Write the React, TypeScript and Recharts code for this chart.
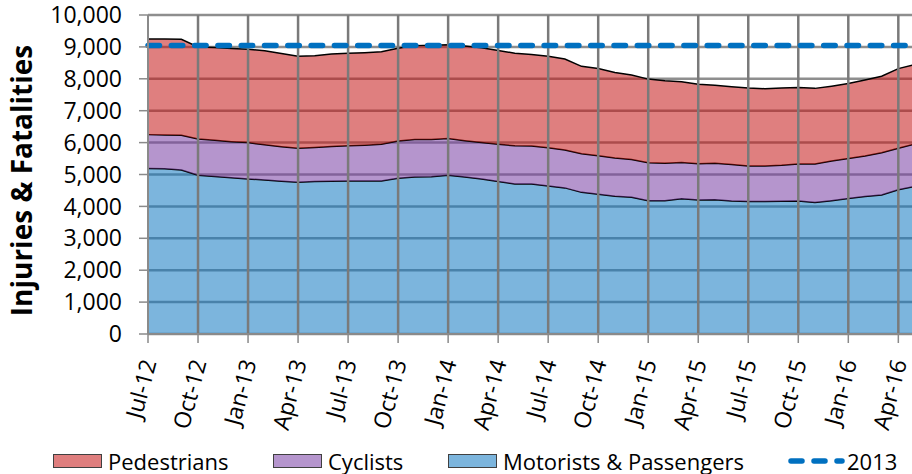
import React from 'react';
import { ComposedChart, Area, Line, XAxis, YAxis, CartesianGrid, ReferenceLine } from 'recharts';

const months = [
  'Jul-12', 'Aug-12', 'Sep-12', 'Oct-12', 'Nov-12', 'Dec-12',
  'Jan-13', 'Feb-13', 'Mar-13', 'Apr-13', 'May-13', 'Jun-13',
  'Jul-13', 'Aug-13', 'Sep-13', 'Oct-13', 'Nov-13', 'Dec-13',
  'Jan-14', 'Feb-14', 'Mar-14', 'Apr-14', 'May-14', 'Jun-14',
  'Jul-14', 'Aug-14', 'Sep-14', 'Oct-14', 'Nov-14', 'Dec-14',
  'Jan-15', 'Feb-15', 'Mar-15', 'Apr-15', 'May-15', 'Jun-15',
  'Jul-15', 'Aug-15', 'Sep-15', 'Oct-15', 'Nov-15', 'Dec-15',
  'Jan-16', 'Feb-16', 'Mar-16', 'Apr-16', 'May-16',
];

// labelled months on the category axis (every third month)
const xTicks = [
  'Jul-12', 'Oct-12', 'Jan-13', 'Apr-13', 'Jul-13', 'Oct-13', 'Jan-14', 'Apr-14',
  'Jul-14', 'Oct-14', 'Jan-15', 'Apr-15', 'Jul-15', 'Oct-15', 'Jan-16', 'Apr-16',
];

const motorists = [
  5190, 5180, 5140, 4980, 4940, 4900, 4860, 4830, 4790, 4760, 4780, 4790,
  4800, 4800, 4800, 4880, 4920, 4930, 4980, 4920, 4860, 4780, 4700, 4700,
  4640, 4580, 4440, 4380, 4320, 4290, 4180, 4180, 4240, 4200, 4210, 4170,
  4150, 4150, 4160, 4170, 4120, 4180, 4250, 4310, 4360, 4520, 4630,
];

const cyclists = [
  1060, 1060, 1090, 1130, 1130, 1130, 1140, 1100, 1080, 1060, 1070, 1090,
  1100, 1120, 1150, 1170, 1180, 1170, 1150, 1140, 1140, 1170, 1200, 1190,
  1200, 1190, 1210, 1210, 1200, 1180, 1190, 1170, 1140, 1140, 1140, 1140,
  1120, 1120, 1130, 1160, 1210, 1240, 1250, 1270, 1320, 1300, 1330,
];

const pedestrians = [
  3000, 3010, 3010, 2890, 2910, 2920, 2930, 2950, 2920, 2890, 2870, 2900,
  2900, 2900, 2900, 2910, 2940, 2950, 2940, 2970, 2970, 2940, 2900, 2870,
  2870, 2850, 2740, 2730, 2680, 2650, 2620, 2590, 2530, 2490, 2450, 2440,
  2440, 2420, 2420, 2400, 2370, 2350, 2350, 2380, 2400, 2500, 2490,
];

const level2013 = 9040;
const yTicks = [0, 1000, 2000, 3000, 4000, 5000, 6000, 7000, 8000, 9000, 10000];

const data = months.map((m, i) => ({
  month: m,
  motorists: motorists[i],
  cyclists: cyclists[i],
  pedestrians: pedestrians[i],
  y2013: level2013,
}));

const FONT = '"Open Sans", sans-serif';
// translucent fills so the horizontal grid shows through (as in the original)
const FILL_OP = 0.55;
const PINK = '#C51515';
const PURPLE = '#783EA4';
const BLUE = '#1178C1';
// same colours as they look over white, for the legend
const PINK_SW = '#DF7E7E';
const PURPLE_SW = '#B595CD';
const BLUE_SW = '#7CB5DD';
const DASH_BLUE = '#0070C0';
const AXIS = '#8A8A8A';
const GRID = '#8E8E8E';

const XTick = ({ x, y, payload }: any) => (
  <g transform={`translate(${x + 1},${y + 15})`}>
    <text textAnchor="end" transform="rotate(-75)" dy={8} fontSize={23} fill="#000" fontFamily={FONT}>
      {payload.value}
    </text>
  </g>
);

const YLabel = ({ viewBox }: any) => {
  const x = viewBox.x + 32;
  const y = viewBox.y + viewBox.height / 2 + 6;
  return (
    <text x={x} y={y} transform={`rotate(-90, ${x}, ${y})`} textAnchor="middle"
      fontSize={28} fontWeight="bold" fill="#000" fontFamily={FONT}>
      Injuries &amp; Fatalities
    </text>
  );
};

const legendItems = [
  { name: 'Pedestrians', color: PINK_SW, left: 53 },
  { name: 'Cyclists', color: PURPLE_SW, left: 273 },
  { name: 'Motorists & Passengers', color: BLUE_SW, left: 448 },
];

export default function App() {
  return (
    <div style={{ position: 'absolute', top: 0, left: 0, width: 912, height: 474, overflow: 'hidden', background: '#fff', fontFamily: FONT }}>
      <ComposedChart width={930} height={474} data={data} margin={{ top: 15, right: 15, bottom: 40, left: 0 }}>
        <CartesianGrid stroke={GRID} strokeWidth={2.5} vertical={false} />
        <XAxis dataKey="month" scale="point" ticks={xTicks} interval={0} height={100}
          axisLine={{ stroke: AXIS, strokeWidth: 2 }} tickLine={{ stroke: AXIS, strokeWidth: 1.5 }}
          tickSize={9} tick={<XTick />} />
        <YAxis domain={[0, 10000]} ticks={yTicks} width={148} interval={0}
          tickFormatter={(v: number) => v.toLocaleString('en-US')}
          axisLine={{ stroke: AXIS, strokeWidth: 2 }} tickLine={{ stroke: AXIS, strokeWidth: 1.5 }}
          tickSize={9} tickMargin={17}
          tick={{ fontSize: 23, fill: '#000', fontFamily: FONT }}
          label={{ content: YLabel }} />
        <Area type="linear" dataKey="motorists" stackId="1" fill={BLUE} fillOpacity={FILL_OP} stroke="#000" strokeWidth={1.5} isAnimationActive={false} />
        <Area type="linear" dataKey="cyclists" stackId="1" fill={PURPLE} fillOpacity={FILL_OP} stroke="#000" strokeWidth={1.5} isAnimationActive={false} />
        <Area type="linear" dataKey="pedestrians" stackId="1" fill={PINK} fillOpacity={FILL_OP} stroke="#000" strokeWidth={1.5} isAnimationActive={false} />
        {xTicks.slice(1).map((m) => (
          <ReferenceLine key={m} x={m} stroke="#7A7A7A" strokeWidth={2.5} />
        ))}
        <Line type="linear" dataKey="y2013" stroke={DASH_BLUE} strokeWidth={5.5} strokeDasharray="11.5 11.8"
          strokeLinecap="round" dot={false} activeDot={false} isAnimationActive={false} />
      </ComposedChart>
      {legendItems.map((it) => (
        <div key={it.name} style={{ position: 'absolute', left: it.left, top: 446, height: 30, display: 'flex', alignItems: 'center', fontSize: 22, lineHeight: '26px', color: '#000', whiteSpace: 'nowrap' }}>
          <span style={{ display: 'inline-block', width: 47, height: 12, background: it.color, border: '1.3px solid #404040', marginRight: 6 }} />
          {it.name}
        </div>
      ))}
      <div style={{ position: 'absolute', left: 788, top: 446, height: 30, display: 'flex', alignItems: 'center', fontSize: 22, lineHeight: '26px', color: '#000', whiteSpace: 'nowrap' }}>
        <svg width={57} height={10} style={{ marginRight: 2 }}>
          <line x1={3} y1={5} x2={54} y2={5} stroke={DASH_BLUE} strokeWidth={5.5} strokeDasharray="11 12" strokeLinecap="round" />
        </svg>
        2013
      </div>
    </div>
  );
}
